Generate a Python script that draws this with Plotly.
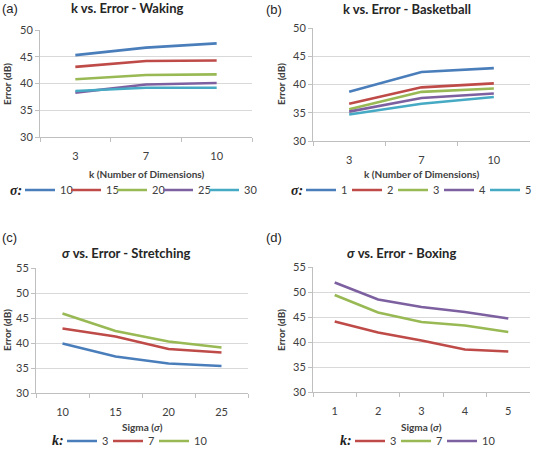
import plotly.graph_objects as go

# ---------------- data ----------------
k_cats = ["3", "7", "10"]
walk_sigmas = ["10", "15", "20", "25", "30"]
walk_err = {
    "10": [45.3, 46.7, 47.5],
    "15": [43.1, 44.2, 44.3],
    "20": [40.8, 41.6, 41.7],
    "25": [38.3, 39.8, 40.1],
    "30": [38.6, 39.2, 39.2],
}
bball_sigmas = ["1", "2", "3", "4", "5"]
bball_err = {
    "1": [38.7, 42.2, 42.9],
    "2": [36.6, 39.5, 40.2],
    "3": [35.6, 38.7, 39.3],
    "4": [35.2, 37.6, 38.4],
    "5": [34.7, 36.6, 37.8],
}
stretch_sigma = ["10", "15", "20", "25"]
stretch_k = ["3", "7", "10"]
stretch_err = {
    "3": [39.9, 37.3, 35.9, 35.4],
    "7": [42.9, 41.3, 38.8, 38.1],
    "10": [45.9, 42.4, 40.3, 39.1],
}
box_sigma = ["1", "2", "3", "4", "5"]
box_k = ["3", "7", "10"]
box_err = {
    "3": [44.1, 41.9, 40.3, 38.5, 38.1],
    "7": [49.4, 45.9, 44.0, 43.3, 42.0],
    "10": [51.9, 48.5, 47.0, 46.0, 44.7],
}

BLUE, RED, GREEN, PURPLE, AQUA = "#4A7EBB", "#BE4B48", "#98B954", "#7D60A0", "#46AAC5"
five = [BLUE, RED, GREEN, PURPLE, AQUA]

FONT = "Lato"
TXT = "#404040"
GRID = "#D9D9D9"
AX = "#BFBFBF"

fig = go.Figure()

def add(x, y, name, color, xa, ya, legend, last=False):
    fig.add_trace(go.Scatter(x=x, y=y, name=name, mode="lines",
                             line=dict(color=color, width=2.6),
                             xaxis=xa, yaxis=ya, legend=legend,
                             legendwidth=(6 * len(name) + 2) if last else None))

for i, s in enumerate(walk_sigmas):
    add(k_cats, walk_err[s], s, five[i], "x", "y", "legend", i == len(walk_sigmas) - 1)
for i, s in enumerate(bball_sigmas):
    add(k_cats, bball_err[s], s, five[i], "x2", "y2", "legend2", i == len(bball_sigmas) - 1)
for i, (k, c) in enumerate(zip(stretch_k, [BLUE, RED, GREEN])):
    add(stretch_sigma, stretch_err[k], k, c, "x3", "y3", "legend3", i == len(stretch_k) - 1)
for i, (k, c) in enumerate(zip(box_k, [RED, GREEN, PURPLE])):
    add(box_sigma, box_err[k], k, c, "x4", "y4", "legend4", i == len(box_k) - 1)

W, H = 533, 450
def dx(a, b): return [a / W, b / W]
def dy(top, bot): return [1 - bot / H, 1 - top / H]

xbase = dict(type="category", tickson="boundaries", ticks="outside", ticklen=4,
             tickcolor=AX, showline=True, linecolor=AX, linewidth=1,
             showgrid=False, tickfont=dict(family=FONT, size=11, color=TXT),
             automargin=False, ticklabelstandoff=9)
ybase = dict(ticks="outside", ticklen=4, tickcolor=AX, showline=True, linecolor=AX,
             linewidth=1, showgrid=True, gridcolor=GRID, gridwidth=1, zeroline=False,
             tickfont=dict(family=FONT, size=11, color=TXT), automargin=False)

fig.update_layout(
    xaxis=dict(xbase, domain=dx(40, 252), anchor="y", range=[-0.5, len(k_cats) - 0.5]),
    yaxis=dict(ybase, domain=dy(30, 137), anchor="x", range=[30, 50], dtick=5),
    xaxis2=dict(xbase, domain=dx(313, 530), anchor="y2", range=[-0.5, len(k_cats) - 0.5]),
    yaxis2=dict(ybase, domain=dy(28, 141), anchor="x2", range=[30, 50], dtick=5),
    xaxis3=dict(xbase, domain=dx(36, 248), anchor="y3", range=[-0.5, len(stretch_sigma) - 0.5]),
    yaxis3=dict(ybase, domain=dy(268, 393), anchor="x3", range=[30, 55], dtick=5),
    xaxis4=dict(xbase, domain=dx(313, 530), anchor="y4", range=[-0.5, len(box_sigma) - 0.5]),
    yaxis4=dict(ybase, domain=dy(267, 392), anchor="x4", range=[30, 55], dtick=5),
)

def leg(x, ypx):
    return dict(orientation="h", x=x / W, y=1 - ypx / H, xanchor="left", yanchor="middle",
                bgcolor="rgba(0,0,0,0)", itemwidth=30, entrywidth=1, entrywidthmode="pixels",
                font=dict(family=FONT, size=11, color=TXT),
                itemclick=False, itemdoubleclick=False, tracegroupgap=0)

fig.update_layout(
    legend=leg(20, 190),
    legend2=leg(301, 190),
    legend3=leg(62, 441),
    legend4=leg(350, 441),
)

ann = []
def title(x, y, text):
    ann.append(dict(x=x / W, y=1 - y / H, xref="paper", yref="paper", text=text, showarrow=False,
                    xanchor="center", yanchor="middle",
                    font=dict(family=FONT, size=13, color="#262626", weight="bold")))
def lab(x, y, text):
    ann.append(dict(x=x / W, y=1 - y / H, xref="paper", yref="paper", text=text, showarrow=False,
                    xanchor="left", yanchor="middle",
                    font=dict(family="Liberation Sans", size=13, color="#262626")))
def axt(x, y, text, angle=0):
    ann.append(dict(x=x / W, y=1 - y / H, xref="paper", yref="paper", text=text, showarrow=False,
                    xanchor="center", yanchor="middle", textangle=angle,
                    font=dict(family=FONT, size=10, color=TXT, weight="bold")))
def legt(x, y, text, anchor="middle"):
    ann.append(dict(x=x / W, y=1 - y / H, xref="paper", yref="paper", text=text, showarrow=False,
                    xanchor="left", yanchor=anchor,
                    font=dict(family="Liberation Serif", size=14, color="#222",
                              weight="bold", style="italic")))

title(127, 8, "k vs. Error - Waking")
title(407, 9, "k vs. Error - Basketball")
title(126, 253, "<i>σ</i> vs. Error - Stretching")
title(401, 253, "<i>σ</i> vs. Error - Boxing")
lab(0, 8, "(a)")
lab(264, 9, "(b)")
lab(0, 238, "(c)")
lab(264, 238, "(d)")

axt(146, 174, "k (Number of Dimensions)")
axt(421, 174, "k (Number of Dimensions)")
axt(142, 427, "Sigma (<i>σ</i>)")
axt(421, 427, "Sigma (<i>σ</i>)")
axt(7, 84, "Error (dB)", -90)
axt(281, 84, "Error (dB)", -90)
axt(7, 330, "Error (dB)", -90)
axt(281, 330, "Error (dB)", -90)

legt(8, 190, "σ:")
legt(289, 190, "σ:")
legt(50, 450, "k:", "bottom")
legt(338, 450, "k:", "bottom")

fig.update_layout(annotations=ann, width=W, height=H,
                  margin=dict(l=0, r=0, t=0, b=0, autoexpand=False),
                  paper_bgcolor="white", plot_bgcolor="white", showlegend=True)

fig.write_html("out.html")
